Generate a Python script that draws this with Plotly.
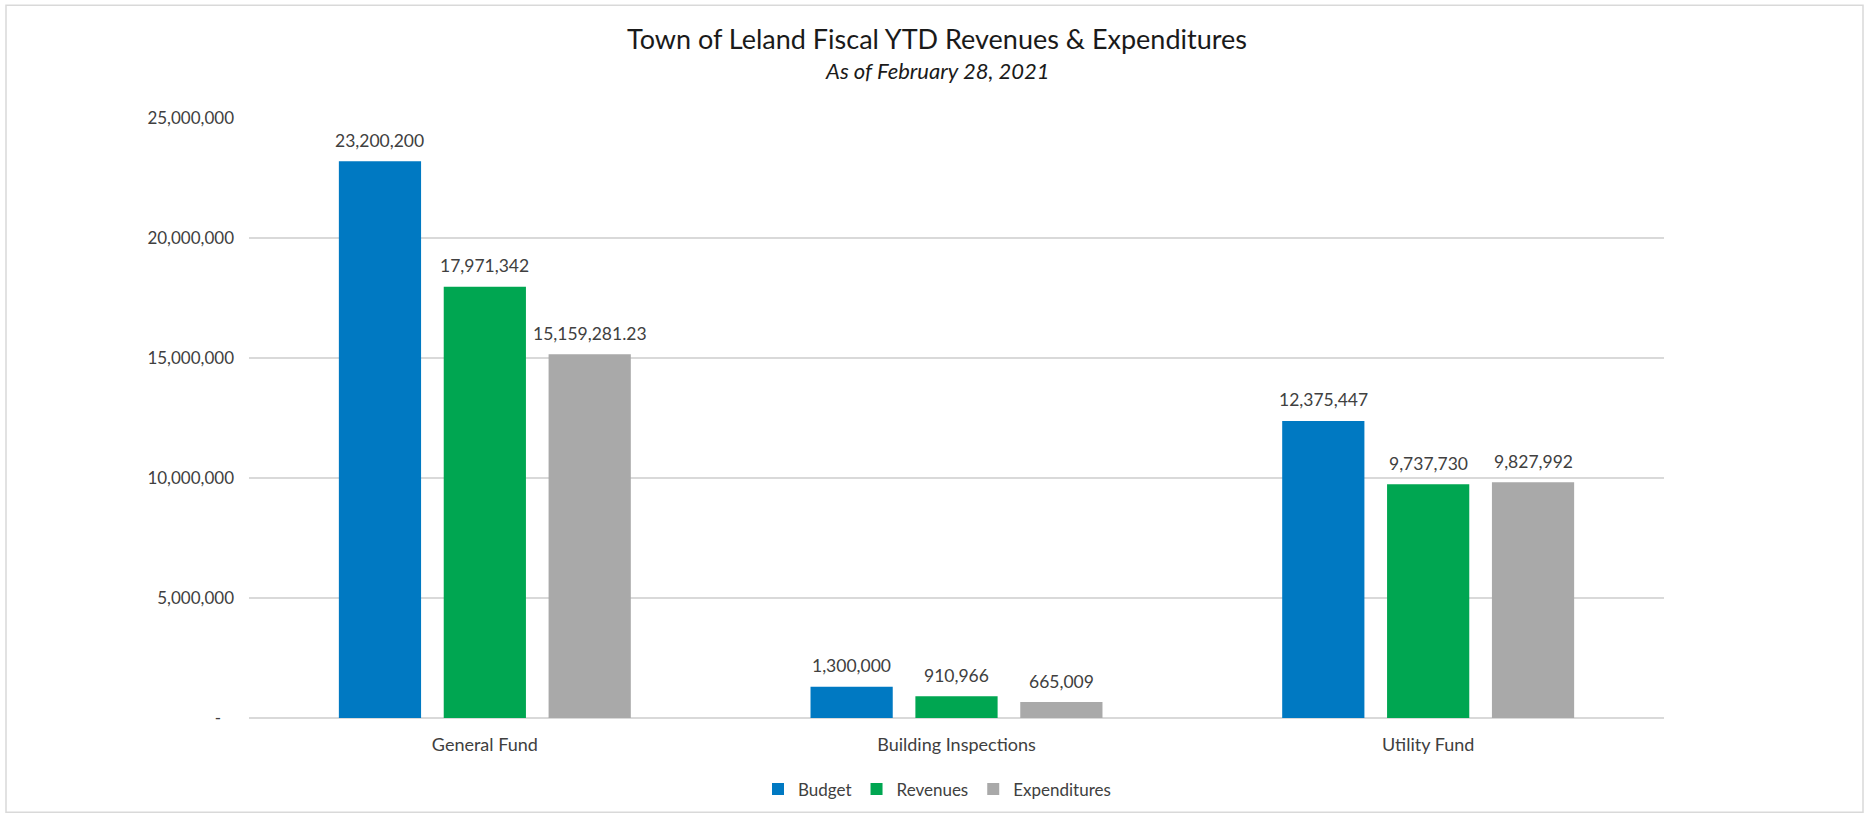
import plotly.graph_objects as go

categories = ["General Fund", "Building Inspections", "Utility Fund"]
series_names = ["Budget", "Revenues", "Expenditures"]
budget = [23200200, 1300000, 12375447]
revenues = [17971342, 910966, 9737730]
expenditures = [15159281.23, 665009, 9827992]
colors = ["#0079C2", "#00A651", "#A9A9A9"]
y_tickvals = [0, 5000000, 10000000, 15000000, 20000000, 25000000]
y_ticktext = ["-\u00a0\u00a0\u00a0", "5,000,000", "10,000,000", "15,000,000", "20,000,000", "25,000,000"]

W, H = 1868, 818
# plot area in page pixels
PL, PR, PT, PB = 249, 1664, 118, 719.5
ML, MT = PL, PT
MR = W - PR
MB = H - PB
plot_w = PR - PL
plot_h = PB - PT

FONT = "Lato"
TXT = "#404040"
BARGAP = 0.333
GROUPGAP = 0.216


def px_x(x):
    return (x - PL) / plot_w


def px_y(y):
    return (PB - y) / plot_h


def fmt(v):
    return f"{v:,.2f}" if v % 1 else f"{v:,.0f}"


fig = go.Figure()
all_series = [budget, revenues, expenditures]
for name, vals, col in zip(series_names, all_series, colors):
    fig.add_trace(go.Bar(x=categories, y=vals, name=name, marker_color=col,
                         marker_line_width=0))

slot = (1 - BARGAP) * plot_w / len(categories) / len(series_names)
annotations = []
for i, vals in enumerate(all_series):
    for c, v in zip(categories, vals):
        annotations.append(dict(x=c, y=v, xref="x", yref="y", text=fmt(v),
                                showarrow=False, xshift=(i - 1) * slot, yshift=21,
                                yanchor="middle", font=dict(family=FONT, size=17.5, color=TXT)))

annotations.append(dict(x=px_x(937), y=px_y(38), xref="paper", yref="paper",
                        text="Town of Leland Fiscal YTD Revenues &amp; Expenditures", showarrow=False,
                        yanchor="middle", font=dict(family=FONT, size=27, color="#1a1a1a")))
annotations.append(dict(x=px_x(937), y=px_y(70), xref="paper", yref="paper",
                        text="<i>As of February 28, 2021</i>", showarrow=False,
                        yanchor="middle", font=dict(family=FONT, size=22, color="#1a1a1a")))

fig.update_layout(
    width=W, height=H,
    margin=dict(l=ML, r=MR, t=MT, b=MB),
    paper_bgcolor="white", plot_bgcolor="white",
    barmode="group", bargap=BARGAP, bargroupgap=GROUPGAP,
    font=dict(family=FONT, size=17, color=TXT),
    annotations=annotations,
    showlegend=True,
    legend=dict(orientation="h", x=px_x(937), xanchor="center",
                y=px_y(790), yanchor="middle",
                font=dict(family=FONT, size=17, color=TXT), traceorder="normal"),
    shapes=[dict(type="rect", xref="paper", yref="paper",
                 x0=px_x(6), x1=px_x(1863),
                 y0=px_y(814), y1=px_y(5),
                 line=dict(color="#d9d9d9", width=1.5), layer="below")],
)
fig.update_yaxes(range=[0, 25000000], tickvals=y_tickvals, ticktext=y_ticktext,
                 showgrid=True, gridcolor="#d9d9d9", gridwidth=1.5,
                 zeroline=True, zerolinecolor="#d9d9d9", zerolinewidth=1.5,
                 showline=False, ticks="", ticklabelstandoff=14,
                 tickfont=dict(family=FONT, size=17, color=TXT), fixedrange=True)
fig.update_xaxes(showline=False, ticks="", ticklabelstandoff=14,
                 tickfont=dict(family=FONT, size=18, color=TXT))

fig.write_html("out.html", config={"displayModeBar": False},
               post_script="document.body.style.margin='0';")
